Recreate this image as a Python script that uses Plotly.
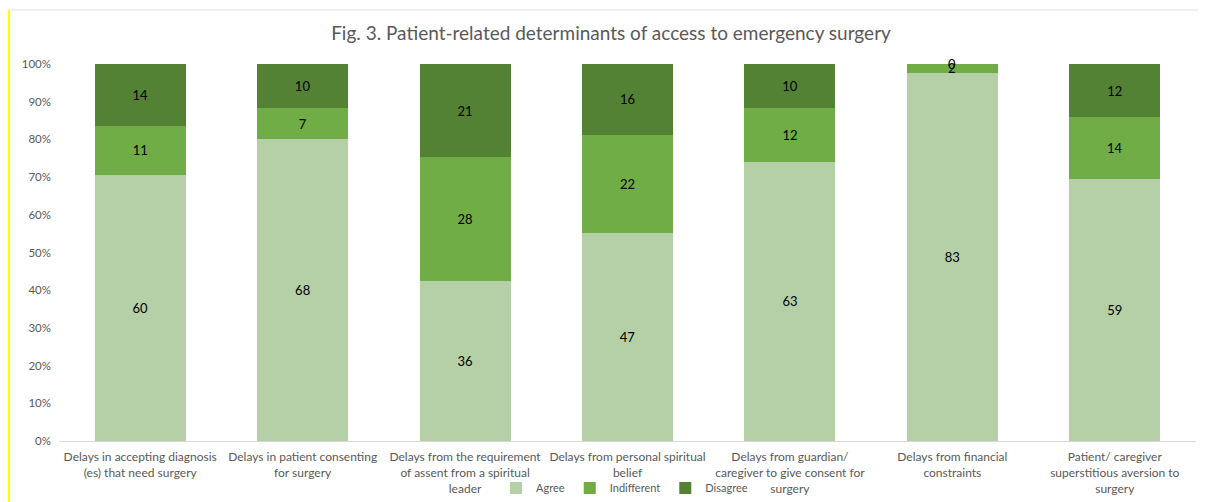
import plotly.graph_objects as go

categories = [
    "Delays in accepting diagnosis<br>(es) that need surgery",
    "Delays in patient consenting<br>for surgery",
    "Delays from the requirement<br>of assent from a spiritual<br>leader",
    "Delays from personal spiritual<br>belief",
    "Delays from guardian/<br>caregiver to give consent for<br>surgery",
    "Delays from financial<br>constraints",
    "Patient/ caregiver<br>superstitious aversion to<br>surgery",
]
agree = [60, 68, 36, 47, 63, 83, 59]
indifferent = [11, 7, 28, 22, 12, 2, 14]
disagree = [14, 10, 21, 16, 10, 0, 12]

# page body has an 8px margin: figure origin sits at screen (8, 8)
OFF = 8
W, H = 1206 - OFF, 502 - OFF
ml, mr, mt, mb = 59 - OFF, 10, 64 - OFF, 61
FONT = "Lato, Open Sans, sans-serif"

series = [("Agree", agree, "#b5cfa7"),
          ("Indifferent", indifferent, "#70ad47"),
          ("Disagree", disagree, "#548235")]
totals = [a + b + c for a, b, c in zip(agree, indifferent, disagree)]

fig = go.Figure()
small_labels = []
cum = [0.0] * len(categories)
for name, vals, col in series:
    texts = []
    for i, v in enumerate(vals):
        pct = 100.0 * v / totals[i]
        if pct < 4:
            texts.append("")
            small_labels.append((categories[i], cum[i] + pct / 2, str(v)))
        else:
            texts.append(str(v))
        cum[i] += pct
    fig.add_trace(go.Bar(
        name=name, x=categories, y=vals, marker_color=col,
        marker_line_width=0,
        text=texts, textposition="inside",
        insidetextanchor="middle", constraintext="none",
        textfont=dict(color="#000000", size=13, family=FONT),
    ))

for cat, yv, txt in small_labels:
    fig.add_annotation(x=cat, y=yv, xref="x", yref="y", text=txt, showarrow=False,
                       font=dict(color="#000000", size=13, family=FONT),
                       yanchor="middle")

pw = W - ml - mr
ph = H - mt - mb
def px2x(p):
    return (p - OFF - ml) / pw
def py2y(p):
    return (H - mb - (p - OFF)) / ph

fig.update_layout(
    width=W, height=H, barmode="stack", barnorm="percent", bargap=0.44,
    margin=dict(l=ml, r=mr, t=mt, b=mb, autoexpand=False),
    paper_bgcolor="white", plot_bgcolor="white",
    font=dict(family=FONT, color="#595959", size=12),
    title=dict(text="Fig. 3. Patient-related determinants of access to emergency surgery",
               x=(611 - OFF) / W, xanchor="center", y=1 - (33 - OFF) / H, yanchor="middle",
               font=dict(size=19, color="#595959", family=FONT)),
    showlegend=True,
    legend=dict(orientation="h", x=px2x(496), xanchor="left", y=py2y(488), yanchor="middle",
                font=dict(size=11, color="#595959"), bgcolor="rgba(0,0,0,0)",
                itemwidth=30, traceorder="normal"),
    uniformtext=dict(minsize=13, mode="show"),
    xaxis=dict(showgrid=False, showline=True, linecolor="#d9d9d9", linewidth=1,
               ticks="", tickfont=dict(size=12, color="#595959"), fixedrange=True,
               automargin=False, ticklabelstandoff=5),
    yaxis=dict(range=[0, 100], dtick=10, ticksuffix="%", showgrid=False,
               zeroline=False, showline=False, automargin=False,
               ticklabelstandoff=7,
               tickfont=dict(size=11.5, color="#595959")),
)

fig.add_shape(type="line", xref="paper", yref="paper",
              x0=px2x(8), x1=px2x(1206), y0=py2y(10), y1=py2y(10),
              line=dict(color="#e0e0e0", width=1))
fig.add_shape(type="line", xref="paper", yref="paper",
              x0=px2x(9), x1=px2x(9), y0=py2y(10), y1=py2y(502),
              line=dict(color="#ffff00", width=2))

fig.write_html("out.html")
